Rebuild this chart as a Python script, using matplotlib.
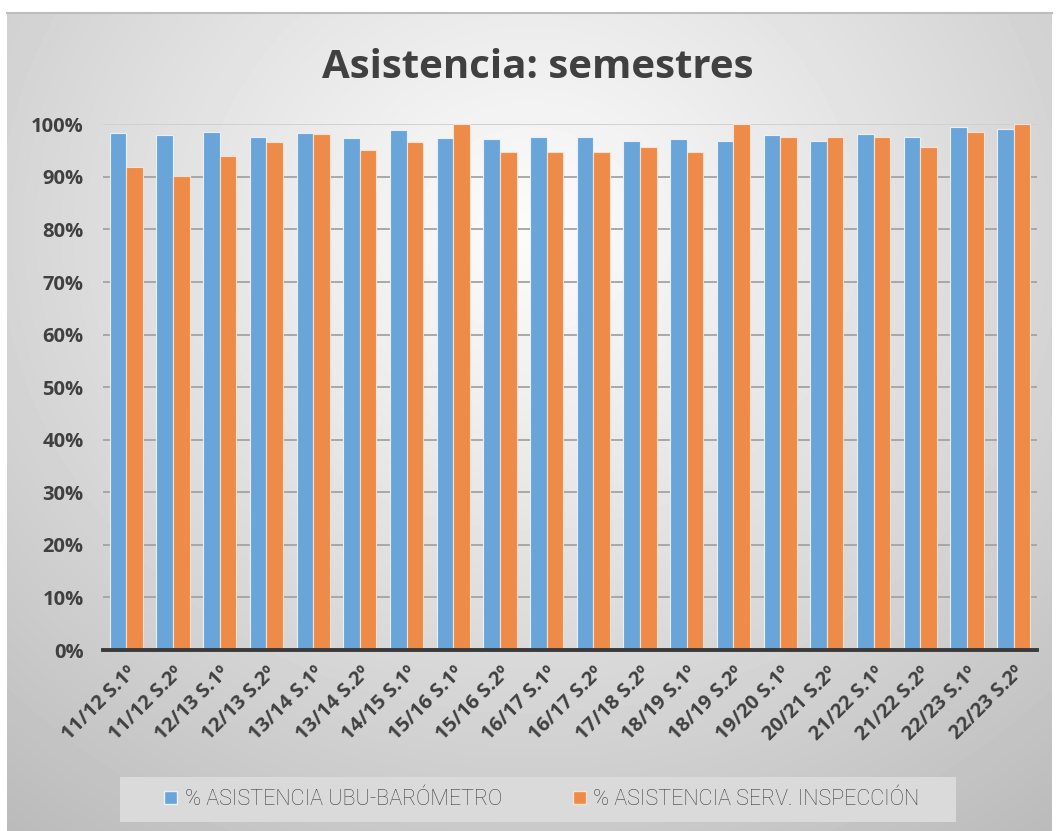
import numpy as np
import matplotlib.pyplot as plt
from matplotlib.patches import Rectangle, Patch

# data
semestres = ['11/12 S.1º', '11/12 S.2º', '12/13 S.1º', '12/13 S.2º', '13/14 S.1º',
             '13/14 S.2º', '14/15 S.1º', '15/16 S.1º', '15/16 S.2º', '16/17 S.1º',
             '16/17 S.2º', '17/18 S.2º', '18/19 S.1º', '18/19 S.2º', '19/20 S.1º',
             '20/21 S.2º', '21/22 S.1º', '21/22 S.2º', '22/23 S.1º', '22/23 S.2º']
ubu_barometro = [98.4, 97.9, 98.6, 97.6, 98.4, 97.4, 98.9, 97.4, 97.2, 97.6,
                 97.6, 96.9, 97.2, 96.9, 97.9, 96.9, 98.2, 97.6, 99.4, 99.1]
serv_inspeccion = [91.8, 90.1, 94.0, 96.7, 98.2, 95.2, 96.7, 100.0, 94.7, 94.7,
                   94.7, 95.7, 94.7, 100.0, 97.6, 97.6, 97.6, 95.7, 98.6, 100.0]
leyenda = ['% ASISTENCIA UBU-BARÓMETRO', '% ASISTENCIA SERV. INSPECCIÓN']

azul = '#6aa5da'
naranja = '#ef8b48'
gris_txt = '#404040'

W, H = 1057, 831
fig = plt.figure(figsize=(W/100, H/100), dpi=100)
fig.patch.set_facecolor('white')

# radial gradient background of the chart frame
bg = fig.add_axes([7/W, 0, (1052-7)/W, (H-12)/H], zorder=-10)
yy, xx = np.mgrid[12:H, 7:1052]
d = np.sqrt((xx-530)**2 + ((yy-230)*1.1)**2)
v = 0.985 - 0.24*(d/800)**1.1
bg.imshow(v, cmap='gray', vmin=0, vmax=1, aspect='auto', interpolation='bilinear')
bg.axis('off')
# top border line of frame
fig.add_artist(plt.Line2D([7/W, 1052/W], [(H-12.5)/H]*2, color='#bdbdbd', lw=1.5))

ax = fig.add_axes([103/W, (H-650)/H, 934/W, (650-124.3)/H])
ax.set_facecolor('none')

x = np.arange(len(semestres))
w = 0.355
ax.bar(x - w/2, ubu_barometro, w, color=azul, edgecolor='#e8f1fa', linewidth=0.8, zorder=3)
ax.bar(x + w/2, serv_inspeccion, w, color=naranja, edgecolor='#fbe1cf', linewidth=0.8, zorder=3)

ax.set_xlim(-0.5, len(semestres)-0.5)
ax.set_ylim(0, 100)
ax.set_yticks(np.arange(0, 101, 10))
ax.set_yticklabels([f'{t}%' for t in range(0, 101, 10)])
ax.yaxis.grid(True, color='#a3a3a3', lw=1.3, zorder=0)
ax.get_ygridlines()[-1].set_color('#cfcfcf')
ax.set_axisbelow(True)
for s in ['top', 'right', 'left']:
    ax.spines[s].set_visible(False)
ax.spines['bottom'].set_color('#3a3a3a')
ax.spines['bottom'].set_linewidth(2.8)
ax.spines['bottom'].set_zorder(4)
ax.tick_params(length=0)
ax.tick_params(axis='y', pad=14)
ax.tick_params(axis='x', pad=9)

ax.set_xticks(x)
ax.set_xticklabels(semestres, rotation=45, ha='right', rotation_mode='anchor')
for t in ax.get_xticklabels() + ax.get_yticklabels():
    t.set_family(['Open Sans', 'DejaVu Sans'])
    t.set_fontweight('bold')
    t.set_fontsize(14.5)
    t.set_color(gris_txt)

fig.text(538/W, (H-67)/H, 'Asistencia: semestres', ha='center', va='center',
         fontsize=29, fontweight='bold', color=gris_txt, family=['Open Sans', 'DejaVu Sans'])

# legend panel
fig.add_artist(Rectangle((120/W, (H-822)/H), 836/W, 45/H, transform=fig.transFigure,
                         facecolor='#dadada', edgecolor='none', zorder=1))
handles = [Patch(facecolor=azul, edgecolor='#e8f1fa'), Patch(facecolor=naranja, edgecolor='#fbe1cf')]
leg = fig.legend(handles, leyenda, loc='center', bbox_to_anchor=(542/W, (H-799.5)/H),
                 ncol=2, frameon=False, handlelength=0.6, handleheight=0.6, handletextpad=0.35,
                 columnspacing=3.3,
                 prop={'family': ['Roboto', 'DejaVu Sans'], 'weight': 'light', 'size': 15.5})
for t in leg.get_texts():
    t.set_color(gris_txt)
leg.set_zorder(2)

fig.savefig('out.png', dpi=100)
